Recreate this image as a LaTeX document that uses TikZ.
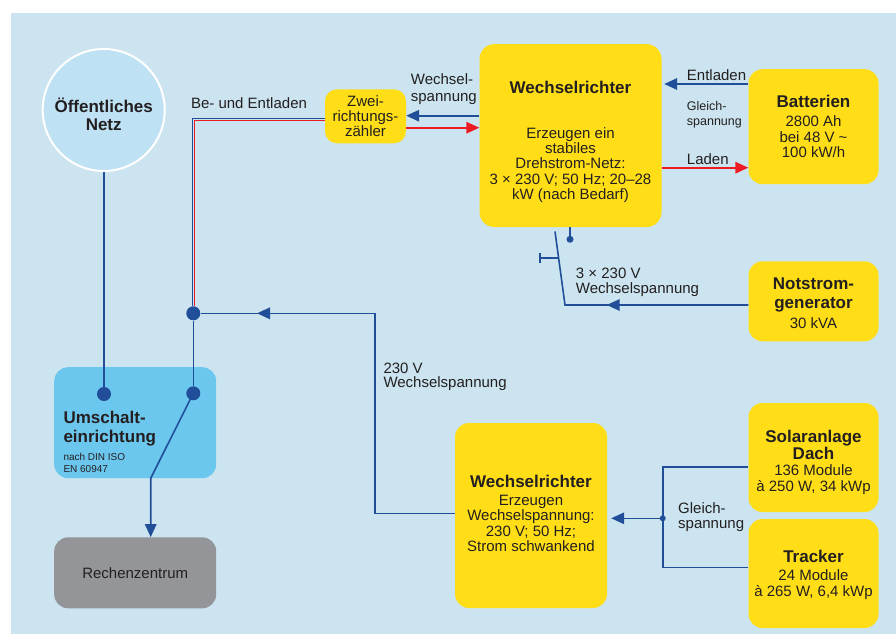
\documentclass[tikz,border=0pt]{standalone}
\usepackage{fontspec}
\setmainfont{Liberation Sans}
\usetikzlibrary{arrows.meta}
\definecolor{hgblau}{RGB}{203,228,239}
\definecolor{netzblau}{RGB}{190,226,244}
\definecolor{umblau}{RGB}{108,199,239}
\definecolor{gelb}{RGB}{255,222,23}
\definecolor{grau}{RGB}{147,149,152}
\definecolor{leitung}{RGB}{33,78,152}
\definecolor{rot}{RGB}{237,28,36}
\definecolor{schrift}{RGB}{35,31,32}

\begin{document}
\begin{tikzpicture}[x=1pt,y=-1pt,
    wire/.style={draw=leitung,line width=1.6pt},
    rwire/.style={draw=rot,line width=1.6pt},
    arr/.style={-{Triangle[length=13pt,width=11.5pt]}},
    kasten/.style={rounded corners=14pt,fill=gelb,inner sep=0},
    titel/.style={font=\fontsize{17}{18.5}\selectfont\bfseries,align=center,text=schrift,inner sep=0},
    info/.style={font=\fontsize{15}{15.3}\selectfont,align=center,text=schrift,inner sep=0},
    lbl/.style={info,anchor=west,align=left},
    punkt/.style={circle,fill=leitung,inner sep=0,minimum size=14pt}]
             \fill[white] (0,0) rectangle (896,634);
             \fill[hgblau] (11,13.3) rectangle (896,634);
             \useasboundingbox (0,0) rectangle (896,634);

             % Boxen
             \node[circle,draw=white,line width=2pt,fill=netzblau,minimum size=122pt,inner sep=0] (netz) at (103.7,110) {};
             \node[titel] (netztxt) at (103.7,114.5) {Öffentliches\\Netz};

             \node[kasten,rounded corners=12pt,minimum width=81pt,minimum height=54pt,info] (zaehler) at (365.5,116.3) {Zwei-\\richtungs-\\zähler};

             \node[kasten,rounded corners=15pt,minimum width=182pt,minimum height=183pt] (wr1) at (570.5,135.6) {};
             \node[titel] (wr1titel) at (570.5,87.3) {Wechselrichter};
             \node[info] (wr1txt) at (570.5,165) {Erzeugen ein\\stabiles\\Drehstrom-Netz:\\3 × 230 V; 50 Hz; 20--28\\kW (nach Bedarf)};

             \node[kasten,minimum width=130pt,minimum height=115pt] (batt) at (813.5,126.7) {};
             \node[titel] (batttitel) at (813.5,101.7) {Batterien};
             \node[info] (batttxt) at (813.5,136.7) {2800 Ah\\bei 48 V \textasciitilde\\100 kW/h};

             \node[kasten,minimum width=130pt,minimum height=80pt] (gen) at (813.5,301.3) {};
             \node[titel,font=\fontsize{17}{19}\selectfont\bfseries] (gentitel) at (813.5,294.5) {Notstrom-\\generator};
             \node[info] (gentxt) at (813.5,322.7) {30 kVA};

             \node[rounded corners=14pt,fill=umblau,minimum width=162pt,minimum height=111pt] (umsch) at (135.2,422.7) {};
             \node[titel,anchor=west,align=left,font=\fontsize{17}{19}\selectfont\bfseries] (umschtitel) at (63.3,428.5) {Umschalt-\\einrichtung};
             \node[lbl,font=\fontsize{10}{12.6}\selectfont] (umschtxt) at (63.3,463) {nach DIN ISO\\EN 60947};

             \node[rounded corners=14pt,fill=grau,minimum width=162pt,minimum height=71pt,info] (rz) at (135.2,572.8) {Rechenzentrum};

             \node[kasten,minimum width=152pt,minimum height=185pt] (wr2) at (531,515.5) {};
             \node[titel] (wr2titel) at (531,481) {Wechselrichter};
             \node[info] (wr2txt) at (531,523.3) {Erzeugen\\Wechselspannung:\\230 V; 50 Hz;\\Strom schwankend};

             \node[kasten,minimum width=130pt,minimum height=109pt] (solar) at (813.5,457.5) {};
             \node[titel,font=\fontsize{17}{14.5}\selectfont\bfseries] (solartitel) at (813.5,445) {Solaranlage\\Dach};
             \node[info,font=\fontsize{15}{16}\selectfont] (solartxt) at (813.5,480) {136 Module\\à 250 W, 34 kWp};

             \node[kasten,minimum width=130pt,minimum height=109pt] (tracker) at (813.5,573.5) {};
             \node[titel] (trackertitel) at (813.5,556.7) {Tracker};
             \node[info] (trackertxt) at (813.5,584.5) {24 Module\\à 265 W, 6,4 kWp};

             % Beschriftungen
             \node[info] (beent) at (249,103.3) {Be- und Entladen};
             \node[lbl,font=\fontsize{15}{16.5}\selectfont] (wsoben) at (410.7,89) {Wechsel-\\spannung};
             \node[lbl] (entl) at (686.7,75) {Entladen};
             \node[lbl,font=\fontsize{12.5}{14.6}\selectfont] (gsoben) at (686.7,115) {Gleich-\\spannung};
             \node[lbl] (laden) at (686.7,159) {Laden};
             \node[lbl] (wsgen) at (575.7,282.5) {3 × 230 V\\Wechselspannung};
             \node[lbl,font=\fontsize{15}{14.5}\selectfont] (wsmitte) at (383.3,377) {230 V\\Wechselspannung};
             \node[lbl] (gsunten) at (678,517) {Gleich-\\spannung};

             % Punkte
             \node[punkt] (jn) at (193.3,313.3) {};
             \node[punkt] (dotl) at (104,394) {};
             \node[punkt] (dotr) at (193.3,393.3) {};
             \node[punkt,minimum size=7pt] (sdot) at (570,239.3) {};
             \node[punkt,minimum size=6pt] (sj) at (662.7,518.3) {};
             \coordinate (hebel) at (555,231.5);
             \coordinate (gk) at (565,305);
             \coordinate (gpfeil) at (606.7,305);
             \coordinate (knick) at (375,313.3);
             \coordinate (jpfeil) at (257,313.3);
             \coordinate (schalt) at (150.7,478.3);

             % Leitungen
             \draw[wire] ([yshift=-2pt]zaehler.west) -| ([xshift=-1pt]jn.north);
             \draw[rwire] ([yshift=-4pt]zaehler.west) -| ([xshift=1pt]jn.north);
             \draw[wire,arr] ([yshift=0.6pt]zaehler.east -| wr1.west) -- ([yshift=0.6pt]zaehler.east);
             \draw[rwire,arr] ([yshift=-11.4pt]zaehler.east) -- ([yshift=-11.4pt]zaehler.east -| wr1.west);
             \draw[wire,arr,shorten >=2.5pt] ([yshift=42.7pt]batt.west) -- ([yshift=42.7pt]batt.west -| wr1.east);
             \draw[rwire,arr] ([yshift=-41pt]batt.west -| wr1.east) -- ([yshift=-41pt]batt.west);

             \draw[wire] (wr1.south -| sdot) -- (sdot);
             \draw[wire] (hebel) -- (gk) -- (gk -| gen.west);
             \draw[wire,-{Bar[width=10pt]}] (558.6,257.7) -- (539.3,257.7);
             \draw[wire,arr] (gk -| gen.west) -- (gpfeil);

             \draw[wire] ([yshift=2pt]wr2.west) -| (knick) -- (jn);
             \draw[wire,arr] (knick) -- (jpfeil);

             \draw[wire] (netz.south) -- (netz.south |- dotl.north);
             \draw[wire] (jn) -- (dotr);
             \draw[wire,arr] (dotr.center) -- (schalt) -- (schalt |- rz.north);

             \draw[wire] ([yshift=-9.2pt]solar.west) -| (sj.center) |- ([yshift=6.2pt]tracker.west);
             \draw[wire,arr,shorten >=4pt] (sj) -- (sj -| wr2.east);
\end{tikzpicture}
\end{document}
